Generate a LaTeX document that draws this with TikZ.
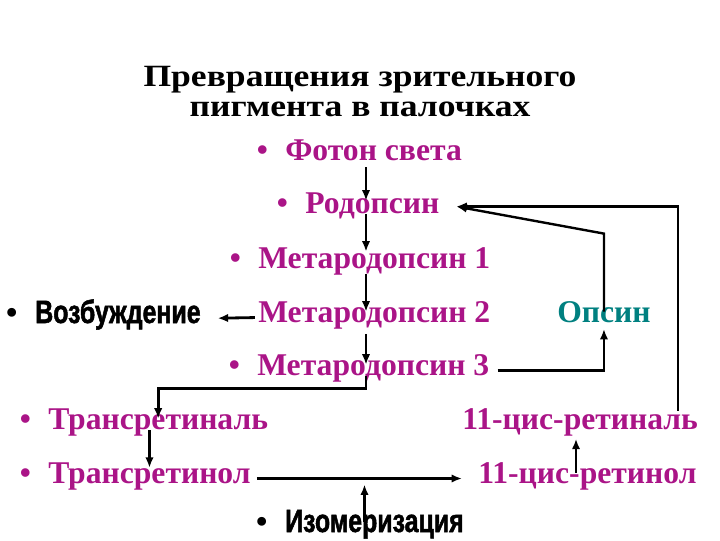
\documentclass[tikz,border=0pt]{standalone}
\usepackage{fontspec}
\setmainfont{Liberation Serif}
\newfontfamily\titlefont{Liberation Serif}[FakeStretch=1.15]
\newfontfamily\condfont{Liberation Sans}[FakeStretch=0.77,FakeBold=1.5]
\usetikzlibrary{arrows.meta}
\definecolor{pigment}{RGB}{170,20,135}
\definecolor{opsincol}{RGB}{0,128,128}
\newcommand\bul{\llap{{\rmfamily\bfseries\textbullet}\hspace{0.55em}}}
\begin{document}
\begin{tikzpicture}[
    x=0.025cm,y=-0.025cm,
    >={Latex[length=2.6mm,width=2.1mm]},
    arrow/.style={->, line width=2pt, draw=black},
    link/.style={->, line width=1.7pt, draw=black},
    head/.style={
        anchor=base,
        inner sep=0pt,
        font=\fontsize{22}{22}\selectfont\titlefont\bfseries
    },
    stage/.style={
        anchor=base west,
        inner sep=0pt,
        text height=0.72em,
        text depth=0.08em,
        text=pigment,
        font=\fontsize{22.5}{24}\selectfont\bfseries
    },
    event/.style={
        anchor=base west,
        inner sep=0pt,
        text height=0.72em,
        text depth=0.08em,
        font=\fontsize{23}{25}\selectfont\condfont\bfseries
    }
]
    \useasboundingbox (0,0) rectangle (720,540);

    \node[head] (title1) at (360,86) {Превращения зрительного};
    \node[head] (title2) at (360,116) {пигмента в палочках};

    \node[stage] (photon) at (285,160) {\bul Фотон света};
    \node[stage] (rhod) at (305,213) {\bul Родопсин};
    \node[stage] (meta1) at (258,268) {\bul Метародопсин 1};
    \node[stage] (meta2) at (258,322) {Метародопсин 2};
    \node[stage] (meta3) at (257,375) {\bul Метародопсин 3};
    \node[stage, text=opsincol] (opsin) at (557,322) {Опсин};
    \node[stage] (transal) at (48,429) {\bul Трансретиналь};
    \node[stage] (transol) at (48,483) {\bul Трансретинол};
    \node[stage] (cisal) at (462,429) {11-цис-ретиналь};
    \node[stage] (cisol) at (478,483) {11-цис-ретинол};

    \node[event] (excite) at (35,323) {\bul Возбуждение};
    \node[event] (isom) at (285,532) {\bul Изомеризация};

    \coordinate (axis) at (366,0);
    \coordinate (rise) at (576,0);
    \coordinate (rhodin) at ([xshift=0.42cm,yshift=0.05cm]rhod.east);

    % main chain
    \draw[arrow, shorten <=0.14cm, shorten >=0.05cm] (axis |- photon.south) -- (axis |- rhod.north);
    \draw[arrow, shorten >=0.15cm] (axis |- rhod.south) -- (axis |- meta1.north);
    \draw[arrow, shorten <=0.11cm] (axis |- meta1.south) -- (axis |- meta2.north);
    \draw[arrow, shorten <=0.26cm] (axis |- meta2.south) -- (axis |- meta3.north);
    \draw[arrow, shorten <=0.08cm, shorten >=0.42cm] (meta2.west) -- (excite.east);

    % opsin branch
    \draw[link, shorten <=0.2cm, shorten >=0.14cm] (meta3.east) -| (opsin.south);
    \draw[link] (opsin.north) -- ++(0,-78) -- (rhodin);

    % retinal branch
    \draw[arrow] (axis |- meta3.south) -- ++(0,12) -| (transal.north);
    \draw[arrow, shorten >=0.12cm] (transal.south -| transol.north) -- (transol.north);
    \draw[arrow, line width=2.8pt, shorten <=0.15cm, shorten >=0.4cm]
        (transol.east) -- (cisol.west) coordinate[pos=0.5] (mid);
    \draw[arrow, shorten >=0.15cm] (mid |- isom.north) -- (mid);
    \draw[arrow, shorten >=0.21cm] (rise |- cisol.north) -- (rise |- cisal.south);
    \draw[link] (cisal.north east) ++(-20,-8) |- (rhodin);
\end{tikzpicture}
\end{document}
